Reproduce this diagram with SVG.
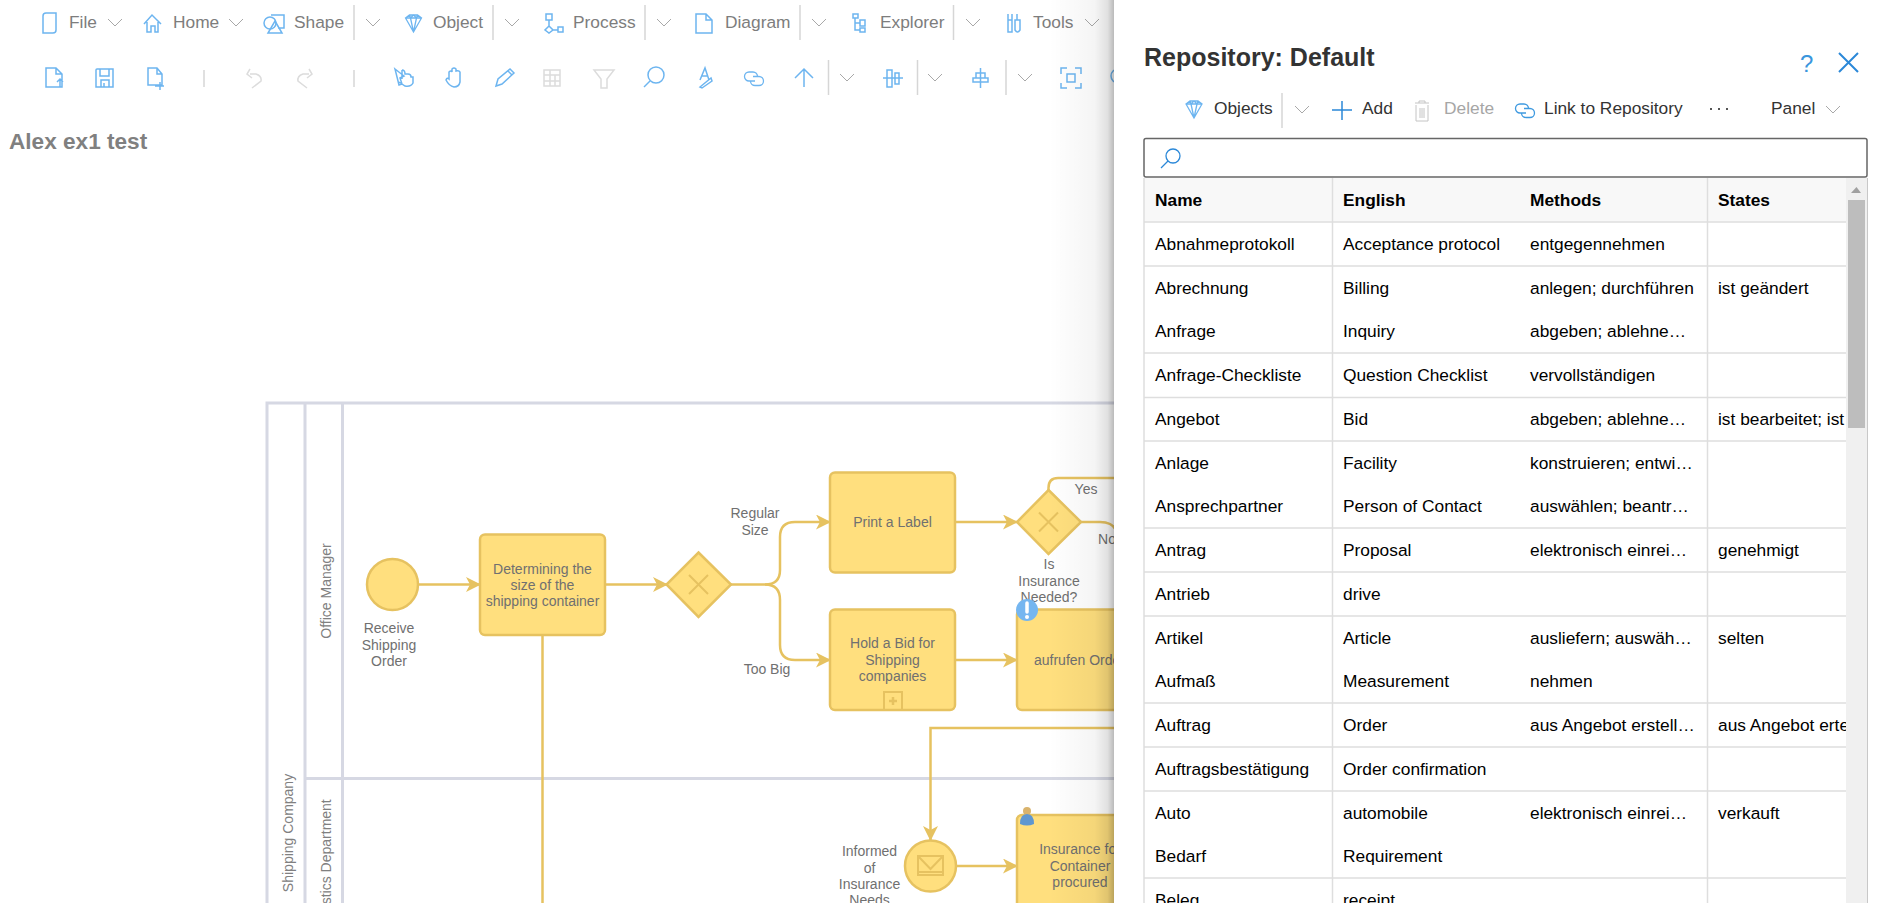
<svg xmlns="http://www.w3.org/2000/svg" width="1898" height="903" viewBox="0 0 1898 903">
<style>
text{font-family:"Liberation Sans",Arial,sans-serif}
.m{font-size:17.33px;fill:#7d7d7d}
.i{fill:none;stroke:#6db5f0;stroke-width:1.5}
.d{fill:none;stroke:#dcdcdc;stroke-width:1.5}
.s{stroke:#d6d6d6;stroke-width:1.5}
.lane{fill:none;stroke:#d6d8e3;stroke-width:3}
.n{fill:#ffdf7e;stroke:#e6c260;stroke-width:2.5}
.g{fill:none;stroke:#e6c260;stroke-width:2}
.f{fill:none;stroke:#e6c260;stroke-width:2.5}
.t{font-size:14px;fill:#707070;text-anchor:middle}
.b{font-size:17.33px;fill:#000}
.h{font-size:17.33px;fill:#000;font-weight:bold}
.p{font-size:17.33px;fill:#333}
.r{stroke:#dedede;stroke-width:1.5}
</style>
<defs>
<marker id="ah" markerWidth="16" markerHeight="16" refX="14" refY="7.5" orient="auto" markerUnits="userSpaceOnUse"><path d="M0 0L15 7.5L0 15L4 7.5Z" fill="#e6c260"/></marker>
<path id="chev" d="M0 0L7 7L14 0" fill="none" stroke="#a8a8a8"/>
<linearGradient id="sh" x1="0" x2="1" y1="0" y2="0"><stop offset="0" stop-color="#000" stop-opacity="0"/><stop offset=".7" stop-color="#000" stop-opacity=".04"/><stop offset=".9" stop-color="#000" stop-opacity=".12"/><stop offset="1" stop-color="#000" stop-opacity=".27"/></linearGradient>
<clipPath id="tb"><rect x="1144" y="178" width="702" height="725"/></clipPath>
<path id="gem" d="M-8 -5L-4 -8H4L8 -5L0 9ZM-8 -5H8M-3 -5L0 9L3 -5M-4 -8L-3 -5L0 -8L3 -5L4 -8" fill="none" stroke="#6db5f0" stroke-width="1.3"/>
<path id="lnk" d="M11 6H5A4.500 4.500 0 0 1 5 -3H9A4.500 4.500 0 0 1 13.500 1.500M9 1.500H15A4.500 4.500 0 0 1 15 10.500H11A4.500 4.500 0 0 1 6.500 6" fill="none" stroke-width="1.300"/>
</defs>
<rect width="1898" height="903" fill="#fff"/>

<g id="menubar">
<path class="i" d="M43 16Q43 13 46 13H56V30Q56 33 53 33H43Z"/><text class="m" x="69" y="28">File</text><use href="#chev" x="108" y="19"/>
<path class="i" d="M144 24L152 15L161 24M147 22V32H151V26H155V32H158V22"/><text class="m" x="173" y="28">Home</text><use href="#chev" x="229" y="19"/>
<circle class="i" cx="270" cy="23" r="6"/><path class="i" d="M271 15H284V28H278M275 21L282 33H268Z"/><text class="m" x="294" y="28">Shape</text><path class="s" d="M354 5V40"/><use href="#chev" x="366" y="19"/>
<use href="#gem" x="413.500" y="23"/><text class="m" x="433" y="28">Object</text><path class="s" d="M493 5V40"/><use href="#chev" x="505" y="19"/>
<path class="i" d="M546 14H552V20H546ZM549 20V26M549 26L553 30L549 33L545 30ZM553 30H558M558 27H563V32H558Z"/><text class="m" x="573" y="28">Process</text><path class="s" d="M645 5V40"/><use href="#chev" x="657" y="19"/>
<path class="i" d="M696 14H706L712 20V33H696ZM706 14V20H712"/><text class="m" x="725" y="28">Diagram</text><path class="s" d="M800 5V40"/><use href="#chev" x="812" y="19"/>
<path class="i" d="M853 14H858V18H853ZM855 18V30H860M855 23H860M860 20H865V26H860ZM860 28H865V32H860Z"/><text class="m" x="880" y="28">Explorer</text><path class="s" d="M953.500 5V40"/><use href="#chev" x="966" y="19"/>
<path class="i" d="M1008 14V20M1012 14V20M1008 20H1012V32H1008ZM1017 14V20M1015 20H1020V30Q1017.500 34 1015 30Z"/><text class="m" x="1033" y="28">Tools</text><use href="#chev" x="1085" y="19"/>
</g>

<g id="toolbar">
<path class="i" d="M46 68H56L62 74V87H46ZM56 68V74H62M60 87V79M57 82L60 79L63 82"/>
<path class="i" d="M96 70Q96 69 97 69H113V87H96ZM100 69V76H109V69M101 87V80H109V87M104 83V87"/>
<path class="i" d="M148 68H157L162 74V85H148ZM157 68V74H162M155 86H164M160 82V90"/>
<path class="s" d="M204 70V87"/>
<path class="d" d="M250 74H256Q262 76 261 81L252 88M250 69L247 74L252 78"/>
<path class="d" d="M309 74H303Q297 76 298 81L307 88M309 69L312 74L307 78"/>
<path class="s" d="M354 70V87"/>
<path class="i" d="M395 69L404 76L400 78L402 84L399 85ZM402 70V79M402 70Q405 70 405 74H408Q411 74 411 77H413V83Q411 87 405 86L399 82"/>
<path class="i" d="M449 79V72Q451 70 452 72V69Q454 67 456 69V71Q459 70 460 72V82Q459 87 454 87Q449 86 446 80Q447 77 449 79Z"/>
<path class="i" d="M496 86L498 79L510 69L514 73L502 84ZM508 71L512 75"/>
<path class="d" d="M544 70H560V86H544ZM550 70V86M544 75H560M544 81H560M555 75V86"/>
<path class="d" d="M594 70H614L607 79V88H601V79Z"/>
<circle class="i" cx="656" cy="75" r="8"/><path class="i" d="M650 81L644 87"/>
<path class="i" d="M700 80L705 68L709 80M702 76H708M700 87L711 78L712 81L702 88Z"/>
<use href="#lnk" x="744" y="75" stroke="#6db5f0"/>
<path class="i" d="M804 87V69M795 78L804 69L813 78"/>
<path class="s" d="M828.500 60V95"/><use href="#chev" x="840" y="74"/>
<path class="i" d="M883 78H903M887 70H892V87H887ZM895 73H899V84H895Z"/>
<path class="s" d="M917.500 60V95"/><use href="#chev" x="928" y="74"/>
<path class="i" d="M980.500 68V88M976 73H985V78H976ZM973 82H988V78H973Z"/>
<path class="s" d="M1006 60V95"/><use href="#chev" x="1018" y="74"/>
<path class="i" d="M1061 74V68H1067M1075 68H1081V74M1081 83V88H1075M1067 88H1061V83M1067 74H1075V82H1067Z"/>
<circle class="i" cx="1118" cy="76" r="7"/>
</g>

<text id="title" x="9" y="149" font-size="22.600" font-weight="bold" fill="#808080">Alex ex1 test</text>

<g id="lanes">
<path class="lane" d="M1130 403H267V903M305 403V903M342.500 403V778.500M305 778.500H1130M342.500 778.500V903"/>
<text class="t" transform="translate(331 591) rotate(-90)" style="fill:#808080">Office Manager</text>
<text class="t" transform="translate(293 833) rotate(-90)" style="fill:#808080">Shipping Company</text>
<text class="t" transform="translate(331 865) rotate(-90)" style="fill:#808080">Logistics Department</text>
</g>

<g id="connectors">
<path class="f" marker-end="url(#ah)" d="M419 584.500H480"/>
<path class="f" marker-end="url(#ah)" d="M605 584.500H667"/>
<path class="f" marker-end="url(#ah)" d="M731 584.500H765Q780 584.500 780 570V537Q780 522 795 522H830"/>
<path class="f" marker-end="url(#ah)" d="M765 584.500Q780 584.500 780 600V645Q780 660 795 660H830"/>
<path class="f" marker-end="url(#ah)" d="M955 522H1017"/>
<path class="f" marker-end="url(#ah)" d="M955 660H1017"/>
<path class="f" d="M1048.500 490V488Q1048.500 478 1058 478H1120"/>
<path class="f" d="M1081 522H1100Q1112 522 1116 530"/>
<path class="f" d="M542.500 635V903"/>
<path class="f" marker-end="url(#ah)" d="M1120 728H930.500V840"/>
<path class="f" marker-end="url(#ah)" d="M957 866H1017"/>
</g>

<g id="receive"><circle class="n" cx="392.500" cy="584.500" r="25.500"/><text class="t" x="389" y="633">Receive</text><text class="t" x="389" y="650">Shipping</text><text class="t" x="389" y="666">Order</text></g>
<g id="determine"><rect class="n" x="480" y="534.500" width="125" height="100.500" rx="5"/><text class="t" x="542.500" y="574">Determining the</text><text class="t" x="542.500" y="590">size of the</text><text class="t" x="542.500" y="606">shipping container</text></g>
<g id="gateway1"><path class="n" d="M698.500 552.500L731 584.500L698.500 617L666.500 584.500Z"/><path class="g" d="M689 575L708 594M708 575L689 594"/></g>
<g id="label-regular"><text class="t" x="755" y="518">Regular</text><text class="t" x="755" y="535">Size</text></g>
<g id="label-toobig"><text class="t" x="767" y="674">Too Big</text></g>
<g id="print"><rect class="n" x="830" y="472.500" width="125" height="100" rx="5"/><text class="t" x="892.500" y="527">Print a Label</text></g>
<g id="gateway2"><path class="n" d="M1048.500 490L1081 522L1048.500 554L1017 522Z"/><path class="g" d="M1039 512.500L1058 531.500M1058 512.500L1039 531.500"/><text class="t" x="1049" y="569">Is</text><text class="t" x="1049" y="586">Insurance</text><text class="t" x="1049" y="602">Needed?</text></g>
<g id="label-yes"><text class="t" x="1086" y="494">Yes</text></g>
<g id="label-no"><text class="t" x="1107" y="544">No</text></g>
<g id="bid"><rect class="n" x="830" y="609.500" width="125" height="100.500" rx="5"/><text class="t" x="892.500" y="648">Hold a Bid for</text><text class="t" x="892.500" y="665">Shipping</text><text class="t" x="892.500" y="681">companies</text><rect class="g" x="884" y="692" width="18" height="18"/><path d="M893 697V705M889 701H897" stroke="#e6c260" stroke-width="2.500"/></g>
<g id="aufrufen"><rect class="n" x="1017" y="609.500" width="125" height="100.500" rx="5"/><text class="t" x="1079.500" y="665">aufrufen Order</text><circle cx="1027" cy="610" r="11" fill="#75b6f0"/><path d="M1027 603V612" stroke="#fff" stroke-width="3.500" stroke-linecap="round"/><circle cx="1027" cy="617" r="2" fill="#fff"/></g>
<g id="informed"><circle class="n" cx="930.500" cy="866" r="25.500"/><path class="g" d="M918 856H943V875H918ZM918 856L930.500 869L943 856M918 872H943"/><text class="t" x="869.500" y="856">Informed</text><text class="t" x="869.500" y="873">of</text><text class="t" x="869.500" y="889">Insurance</text><text class="t" x="869.500" y="905">Needs</text></g>
<g id="insurance"><rect class="n" x="1017" y="815" width="125" height="101" rx="5"/><text class="t" x="1080" y="854">Insurance for</text><text class="t" x="1080" y="871">Container</text><text class="t" x="1080" y="887">procured</text><circle cx="1027" cy="811" r="4" fill="#d9b36c"/><path d="M1020 824Q1020 814 1027 814Q1034 814 1034 824Q1027 827 1020 824Z" fill="#5f97d0"/></g>

<rect id="shadow" x="1049" y="0" width="65" height="903" fill="url(#sh)"/>
<g id="panel">
<rect x="1114" y="0" width="784" height="903" fill="#fff"/>
<text x="1144" y="66" font-size="25" font-weight="bold" fill="#333">Repository: Default</text>
<text x="1800" y="72" font-size="24" fill="#3a96dd">?</text>
<path d="M1839 53L1858 72M1858 53L1839 72" stroke="#2b88d8" stroke-width="2" fill="none"/>
<use href="#gem" x="1194" y="109"/><text class="p" x="1214" y="114">Objects</text>
<path class="s" d="M1282 93V128"/><use href="#chev" x="1295" y="106"/>
<path d="M1342 101V120M1332 110H1352" stroke="#2b88d8" stroke-width="1.500"/><text class="p" x="1362" y="114">Add</text>
<path d="M1415 103H1429M1419 103V101H1425V103M1416 105V121H1428V105M1420 108V118M1422 108V118M1424 108V118" fill="none" stroke="#c4c4c4"/><text x="1444" y="114" font-size="17.330" fill="#a6a6a6">Delete</text>
<use href="#lnk" x="1515" y="107" stroke="#3f9ae0"/><text class="p" x="1544" y="114">Link to Repository</text>
<path d="M1710 109h2M1718 109h2M1726 109h2" stroke="#555" stroke-width="2"/>
<text class="p" x="1771" y="114">Panel</text><use href="#chev" x="1826" y="106"/>
<rect x="1144" y="138.500" width="723" height="38.500" rx="2" fill="#fff" stroke="#666" stroke-width="1.500"/>
<circle cx="1173" cy="156" r="7" fill="none" stroke="#2b88d8" stroke-width="1.300"/><path d="M1168 161L1161 168" stroke="#2b88d8" stroke-width="1.300"/>
</g>
<g id="table">
<rect x="1144" y="178" width="702" height="44" fill="#f8f8f8"/>
<rect x="1846" y="178" width="21" height="725" fill="#f0f0f0"/>
<path d="M1856.500 187L1861 193H1851Z" fill="#a0a0a0"/>
<rect x="1848" y="200" width="17" height="228" fill="#bdbdbd"/>
<path d="M1867.500 178V903" stroke="#c8c8c8"/>
<path class="r" d="M1144 178V903M1332.500 178V903M1707.500 178V903M1144 222H1846M1144 266H1846M1144 353H1846M1144 397.500H1846M1144 441H1846M1144 528H1846M1144 572H1846M1144 616H1846M1144 703H1846M1144 747H1846M1144 791H1846M1144 878H1846"/>
<g clip-path="url(#tb)">
<text class="h" x="1155" y="205.500">Name</text><text class="h" x="1343" y="205.500">English</text><text class="h" x="1530" y="205.500">Methods</text><text class="h" x="1718" y="205.500">States</text>
<text class="b" x="1155" y="249.500">Abnahmeprotokoll</text><text class="b" x="1343" y="249.500">Acceptance protocol</text><text class="b" x="1530" y="249.500">entgegennehmen</text>
<text class="b" x="1155" y="293.500">Abrechnung</text><text class="b" x="1343" y="293.500">Billing</text><text class="b" x="1530" y="293.500">anlegen; durchführen</text><text class="b" x="1718" y="293.500">ist geändert</text>
<text class="b" x="1155" y="336.500">Anfrage</text><text class="b" x="1343" y="336.500">Inquiry</text><text class="b" x="1530" y="336.500">abgeben; ablehne…</text>
<text class="b" x="1155" y="380.500">Anfrage-Checkliste</text><text class="b" x="1343" y="380.500">Question Checklist</text><text class="b" x="1530" y="380.500">vervollständigen</text>
<text class="b" x="1155" y="424.500">Angebot</text><text class="b" x="1343" y="424.500">Bid</text><text class="b" x="1530" y="424.500">abgeben; ablehne…</text><text class="b" x="1718" y="424.500">ist bearbeitet; ist</text>
<text class="b" x="1155" y="468.500">Anlage</text><text class="b" x="1343" y="468.500">Facility</text><text class="b" x="1530" y="468.500">konstruieren; entwi…</text>
<text class="b" x="1155" y="511.500">Ansprechpartner</text><text class="b" x="1343" y="511.500">Person of Contact</text><text class="b" x="1530" y="511.500">auswählen; beantr…</text>
<text class="b" x="1155" y="555.500">Antrag</text><text class="b" x="1343" y="555.500">Proposal</text><text class="b" x="1530" y="555.500">elektronisch einrei…</text><text class="b" x="1718" y="555.500">genehmigt</text>
<text class="b" x="1155" y="599.500">Antrieb</text><text class="b" x="1343" y="599.500">drive</text>
<text class="b" x="1155" y="643.500">Artikel</text><text class="b" x="1343" y="643.500">Article</text><text class="b" x="1530" y="643.500">ausliefern; auswäh…</text><text class="b" x="1718" y="643.500">selten</text>
<text class="b" x="1155" y="686.500">Aufmaß</text><text class="b" x="1343" y="686.500">Measurement</text><text class="b" x="1530" y="686.500">nehmen</text>
<text class="b" x="1155" y="730.500">Auftrag</text><text class="b" x="1343" y="730.500">Order</text><text class="b" x="1530" y="730.500">aus Angebot erstell…</text><text class="b" x="1718" y="730.500">aus Angebot erte</text>
<text class="b" x="1155" y="774.500">Auftragsbestätigung</text><text class="b" x="1343" y="774.500">Order confirmation</text>
<text class="b" x="1155" y="818.500">Auto</text><text class="b" x="1343" y="818.500">automobile</text><text class="b" x="1530" y="818.500">elektronisch einrei…</text><text class="b" x="1718" y="818.500">verkauft</text>
<text class="b" x="1155" y="861.500">Bedarf</text><text class="b" x="1343" y="861.500">Requirement</text>
<text class="b" x="1155" y="905.500">Beleg</text><text class="b" x="1343" y="905.500">receipt</text>
</g>
</g>
</svg>
